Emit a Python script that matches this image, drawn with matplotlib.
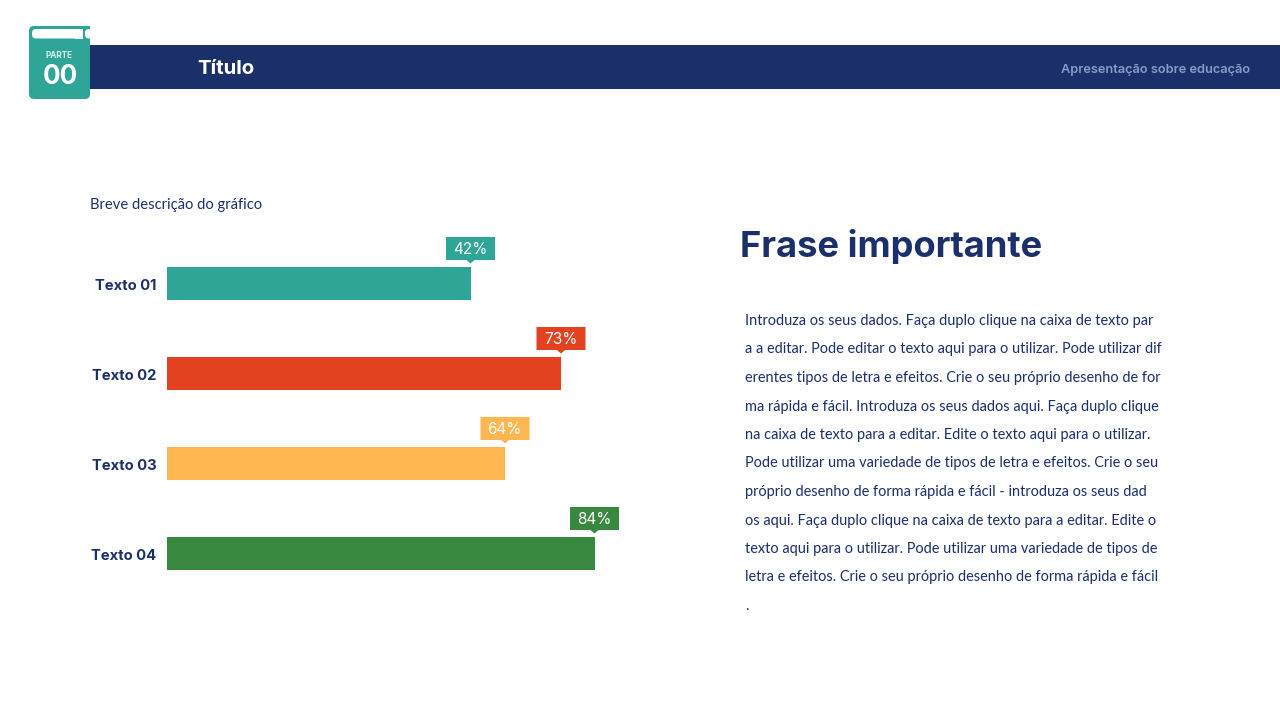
import matplotlib
matplotlib.use('Agg')
import matplotlib.pyplot as plt
from matplotlib.patches import FancyBboxPatch, Polygon, Rectangle

# chart data
labels = ['Texto 01', 'Texto 02', 'Texto 03', 'Texto 04']
percents = [42, 73, 64, 84]
# bar lengths as drawn in the picture (not proportional to the labels)
lengths = [303.5, 394, 338, 427.5]
colors = ['#2fa598', '#e24220', '#ffb650', '#38893f']

navy = '#1b2f6b'
title = 'Título'
subtitle = 'Apresentação sobre educação'
chart_note = 'Breve descrição do gráfico'
heading = 'Frase importante'
body = [
    'Introduza os seus dados. Faça duplo clique na caixa de texto par',
    'a a editar. Pode editar o texto aqui para o utilizar. Pode utilizar dif',
    'erentes tipos de letra e efeitos. Crie o seu próprio desenho de for',
    'ma rápida e fácil. Introduza os seus dados aqui. Faça duplo clique',
    'na caixa de texto para a editar. Edite o texto aqui para o utilizar.',
    'Pode utilizar uma variedade de tipos de letra e efeitos. Crie o seu',
    'próprio desenho de forma rápida e fácil - introduza os seus dad',
    'os aqui. Faça duplo clique na caixa de texto para a editar. Edite o',
    'texto aqui para o utilizar. Pode utilizar uma variedade de tipos de',
    'letra e efeitos. Crie o seu próprio desenho de forma rápida e fácil',
    '.',
]

W, H = 1280, 720
fig = plt.figure(figsize=(12.8, 7.2), dpi=100, facecolor='#fefefe')


def px(size):
    return size * 0.72


# page furniture in pixel coordinates
bg = fig.add_axes([0, 0, 1, 1])
bg.set_xlim(0, W)
bg.set_ylim(H, 0)
bg.axis('off')

bg.add_patch(Rectangle((88, 45), W - 88, 43.5, fc=navy, ec='none'))

# book icon
bg.add_patch(FancyBboxPatch((29, 26), 61, 73, boxstyle='round,pad=0,rounding_size=5',
                            fc='#2fa598', ec='none'))
bg.add_patch(Rectangle((70, 26), 20, 20, fc='#2fa598', ec='none'))
bg.add_patch(FancyBboxPatch((32, 29), 51, 9.5, boxstyle='round,pad=0,rounding_size=4',
                            fc='white', ec='none'))
bg.add_patch(Rectangle((75, 29), 8, 9.5, fc='white', ec='none'))
bg.add_patch(FancyBboxPatch((85, 29), 8, 9.5, boxstyle='round,pad=0,rounding_size=4',
                            fc='white', ec='none'))
bg.add_patch(Rectangle((90, 20), 6, 24.5, fc='#fefefe', ec='none'))

bg.text(58.5, 56, 'PARTE', color='#d8f0ec', fontsize=px(8.2), family='Inter',
        weight='bold', ha='center', va='center')
bg.text(60, 77.5, '00', color='white', fontsize=px(26), family='Inter',
        weight='bold', ha='center', va='center')
bg.text(197.5, 69, title, color='white', fontsize=px(20.4), family='Inter',
        weight='bold', ha='left', va='center')
bg.text(1250, 69.5, subtitle, color='#8a9ac6', fontsize=px(12.8), family='Inter',
        weight='semibold', ha='right', va='center')

bg.text(90, 204.5, chart_note, color=navy, fontsize=px(14.7), family='Lato',
        ha='left', va='center')
bg.text(740, 246, heading, color=navy, fontsize=px(36.3), family='Inter',
        weight='bold', ha='left', va='center')
for n, line in enumerate(body):
    bg.text(745, 321 + n * 28.5, line, color=navy, fontsize=px(14.5), family='Lato',
            ha='left', va='center')

# bars: x axis counts pixels from the bar origin, one row is 90 px tall
ax = fig.add_axes([167 / W, 1 - 598.5 / H, 500 / W, 360 / H])
ax.set_xlim(0, 500)
ax.set_ylim(3.5, -0.5)
ax.patch.set_alpha(0)
row = 90.0

ax.barh(range(len(labels)), lengths, height=33 / row, color=colors)
for s in ax.spines.values():
    s.set_visible(False)
ax.set_xticks([])
ax.set_yticks([])
for i, lab in enumerate(labels):
    ax.text(-10.5, i + 2.5 / row, lab, color=navy, fontsize=px(14.8), family='Inter',
            weight='bold', ha='right', va='center', clip_on=False)

# callouts with a small pointer above the end of each bar
for i, (v, l, c) in enumerate(zip(percents, lengths, colors)):
    top = i - 46.5 / row
    bottom = i - 23.5 / row
    tip = i - 20 / row
    ax.add_patch(Polygon([(l - 24.5, top), (l + 24.5, top), (l + 24.5, bottom), (l + 4, bottom),
                          (l, tip), (l - 4, bottom), (l - 24.5, bottom)],
                         closed=True, fc=c, ec='none', clip_on=False))
    ax.text(l - 0.5, (top + bottom) / 2 + 1.5 / row, f'{v}%', color='white', fontsize=px(15.3),
            family='Inter', weight='normal', ha='center', va='center')

fig.savefig('out.png', dpi=100, facecolor=fig.get_facecolor())
